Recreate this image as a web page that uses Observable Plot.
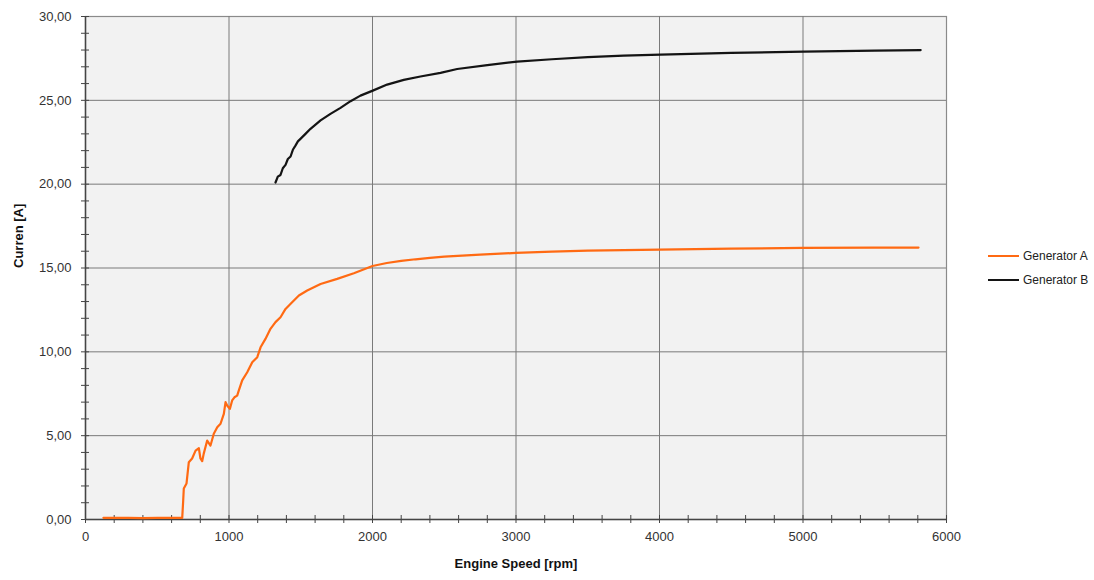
<!DOCTYPE html>
<html>
<head>
<meta charset="utf-8">
<script src="https://cdn.jsdelivr.net/npm/d3@7"></script>
<script src="https://cdn.jsdelivr.net/npm/@observablehq/plot@0.6"></script>
<style>
  html, body { margin: 0; padding: 0; background: #ffffff; }
  #wrap { position: relative; width: 1094px; height: 580px; font-family: "Liberation Sans", Arial, sans-serif; }
  #legend { position: absolute; left: 988px; top: 244px; font-size: 12px; color: #222; }
  .item { display: flex; align-items: center; height: 24px; }
  .sw { width: 31px; height: 2px; margin-right: 4px; }
</style>
</head>
<body>
<div id="wrap"></div>
<script>
const seriesNames = ["Generator A", "Generator B"];
const seriesColors = ["#ff6a13", "#141414"];

const rpmA = [125, 200, 300, 400, 500, 600, 674, 680, 685, 704, 720, 743, 767, 790, 801, 813, 824, 848, 871, 894, 918, 941, 964, 976, 987, 1006, 1022, 1038, 1057, 1068, 1092, 1127, 1162, 1197, 1220, 1254, 1289, 1324, 1359, 1394, 1440, 1487, 1545, 1638, 1754, 1870, 2000, 2100, 2200, 2300, 2400, 2500, 2750, 3000, 3250, 3500, 3750, 4000, 4500, 5000, 5500, 5805];
const currA = [0.1, 0.1, 0.1, 0.08, 0.1, 0.1, 0.1, 1.0, 1.85, 2.15, 3.42, 3.64, 4.11, 4.25, 3.64, 3.48, 3.93, 4.71, 4.41, 5.11, 5.50, 5.71, 6.30, 7.0, 6.8, 6.6, 7.1, 7.29, 7.39, 7.69, 8.3, 8.78, 9.38, 9.68, 10.27, 10.77, 11.37, 11.77, 12.06, 12.56, 12.96, 13.36, 13.66, 14.05, 14.35, 14.69, 15.12, 15.3, 15.42, 15.52, 15.6, 15.68, 15.8, 15.9, 15.98, 16.04, 16.07, 16.09, 16.15, 16.2, 16.21, 16.22];

const rpmB = [1324, 1340, 1359, 1375, 1394, 1410, 1429, 1445, 1463, 1480, 1498, 1533, 1568, 1638, 1707, 1777, 1847, 1916, 2002, 2102, 2218, 2334, 2474, 2590, 2800, 3008, 3250, 3500, 3750, 4007, 4500, 5006, 5500, 5820];
const currB = [20.1, 20.45, 20.55, 20.95, 21.15, 21.5, 21.65, 22.05, 22.3, 22.55, 22.7, 23.0, 23.3, 23.8, 24.19, 24.55, 24.95, 25.28, 25.58, 25.94, 26.22, 26.42, 26.64, 26.87, 27.1, 27.31, 27.45, 27.58, 27.67, 27.73, 27.83, 27.91, 27.97, 28.0];

const xMajor = [0, 1000, 2000, 3000, 4000, 5000, 6000];
const yMajor = [0, 5, 10, 15, 20, 25, 30];
const xMinor = d3.range(0, 6001, 200);
const yMinor = d3.range(0, 31, 1);

const xLabel = "Engine Speed [rpm]";
const yLabel = "Curren [A]";

const dataA = rpmA.map((r, i) => ({rpm: r, cur: currA[i], s: seriesNames[0]}));
const dataB = rpmB.map((r, i) => ({rpm: r, cur: currB[i], s: seriesNames[1]}));

const W = 1094, H = 580, mL = 85, mR = 148, mT = 16, mB = 61;
const pw = W - mL - mR, ph = H - mT - mB;

const chart = Plot.plot({
  width: W, height: H,
  marginLeft: mL, marginRight: mR, marginTop: mT, marginBottom: mB,
  style: {fontFamily: "Liberation Sans, Arial, sans-serif", fontSize: "13px", color: "#333", background: "#ffffff"},
  x: {domain: [0, 6000]},
  y: {domain: [0, 30]},
  color: {domain: seriesNames, range: seriesColors},
  marks: [
    Plot.frame({fill: "#f2f2f2", stroke: "#8a8a8a", strokeWidth: 1.2}),
    Plot.gridX(xMajor.slice(1, -1), {stroke: "#7a7a7a", strokeOpacity: 1, strokeWidth: 1}),
    Plot.gridY(yMajor.slice(1, -1), {stroke: "#7a7a7a", strokeOpacity: 1, strokeWidth: 1}),
    Plot.tickY(yMinor, {y: d => d, stroke: "#444", strokeWidth: 1, insetLeft: -4, insetRight: pw - 4}),
    Plot.tickX(xMinor, {x: d => d, stroke: "#444", strokeWidth: 1, insetTop: ph - 4, insetBottom: -4}),
    Plot.ruleX([0], {stroke: "#444", strokeWidth: 1.5}),
    Plot.ruleY([0], {stroke: "#444", strokeWidth: 1.5}),
    Plot.axisY(yMajor, {tickSize: 0, tickPadding: 14, label: null, fill: "#333",
      tickFormat: d => d.toFixed(2).replace(".", ",")}),
    Plot.axisX(xMajor, {tickSize: 0, tickPadding: 12, label: null, fill: "#333", tickFormat: d => String(d)}),
    Plot.line(dataA, {x: "rpm", y: "cur", stroke: "s", strokeWidth: 2.2}),
    Plot.line(dataB, {x: "rpm", y: "cur", stroke: "s", strokeWidth: 2.2}),
    Plot.text([xLabel], {text: d => d, frameAnchor: "bottom", dy: 48, fontWeight: "bold", fontSize: 13, fill: "#111"}),
    Plot.text([yLabel], {text: d => d, frameAnchor: "left", dx: -67, rotate: -90, fontWeight: "bold", fontSize: 13, fill: "#111"})
  ]
});

const wrap = document.getElementById("wrap");
wrap.appendChild(chart);

const legend = document.createElement("div");
legend.id = "legend";
seriesNames.forEach((n, i) => {
  const it = document.createElement("div");
  it.className = "item";
  const sw = document.createElement("div");
  sw.className = "sw";
  sw.style.background = seriesColors[i];
  const t = document.createElement("span");
  t.textContent = n;
  it.appendChild(sw); it.appendChild(t);
  legend.appendChild(it);
});
wrap.appendChild(legend);
</script>
</body>
</html>
